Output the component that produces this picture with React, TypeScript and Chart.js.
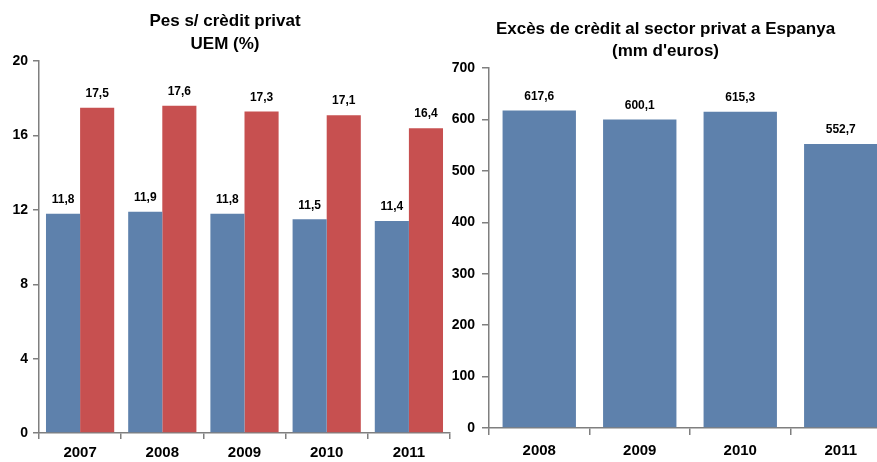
import React, { useEffect, useRef } from 'react';
import { Chart, registerables } from 'chart.js';

Chart.register(...registerables);

// ---- Data ----
const leftTitle = ['Pes s/ crèdit privat', 'UEM (%)'];
const leftCategories = ['2007', '2008', '2009', '2010', '2011'];
const leftSeriesA = [11.8, 11.9, 11.8, 11.5, 11.4];
const leftSeriesB = [17.5, 17.6, 17.3, 17.1, 16.4];
const leftMin = 0;
const leftMax = 20;
const leftStep = 4;

const rightTitle = ["Excès de crèdit al sector privat a Espanya", "(mm d'euros)"];
const rightCategories = ['2008', '2009', '2010', '2011'];
const rightValues = [617.6, 600.1, 615.3, 552.7];
const rightMin = 0;
const rightMax = 700;
const rightStep = 100;

const BLUE = '#5E81AC';
const RED = '#C75050';
const AXIS = '#7f7f7f';
const FONT = '"Liberation Sans", Arial, sans-serif';

const fmt = (v: number) => v.toFixed(1).replace('.', ',');

const labelPlugin = {
  id: 'barLabels',
  afterDatasetsDraw(chart: any) {
    const ctx = chart.ctx;
    ctx.save();
    ctx.font = `bold 12px ${FONT}`;
    ctx.fillStyle = '#000';
    ctx.textAlign = 'center';
    ctx.textBaseline = 'middle';
    chart.data.datasets.forEach((ds: any, i: number) => {
      const meta = chart.getDatasetMeta(i);
      meta.data.forEach((el: any, j: number) => {
        ctx.fillText(fmt(ds.data[j]), el.x, el.y - 14);
      });
    });
    ctx.restore();
  },
};

function makeScales(min: number, max: number, step: number, yWidth: number, xHeight: number, tickLen: number, pad: number) {
  return {
    x: {
      grid: { display: true, drawOnChartArea: false, drawTicks: true, tickLength: tickLen, color: AXIS, lineWidth: 1.5, offset: true },
      border: { display: true, color: AXIS, width: 1.5 },
      ticks: { color: '#000', padding: pad, font: { family: FONT, size: 15, weight: 'bold' } },
      afterFit: (s: any) => { s.height = xHeight; },
    },
    y: {
      min, max,
      grid: { display: true, drawOnChartArea: false, drawTicks: true, tickLength: tickLen, color: AXIS, lineWidth: 1.5 },
      border: { display: true, color: AXIS, width: 1.5 },
      ticks: { stepSize: step, color: '#000', padding: pad, font: { family: FONT, size: 14, weight: 'bold' } },
      afterFit: (s: any) => { s.width = yWidth; },
    },
  };
}

export default function App() {
  const leftRef = useRef<HTMLCanvasElement>(null);
  const rightRef = useRef<HTMLCanvasElement>(null);

  useEffect(() => {
    const left = new Chart(leftRef.current as HTMLCanvasElement, {
      type: 'bar',
      data: {
        labels: leftCategories,
        datasets: [
          { label: 'Sèrie 1', data: leftSeriesA, backgroundColor: BLUE, categoryPercentage: 0.83, barPercentage: 1 },
          { label: 'Sèrie 2', data: leftSeriesB, backgroundColor: RED, categoryPercentage: 0.83, barPercentage: 1 },
        ],
      },
      options: {
        responsive: false,
        animation: false,
        layout: { padding: { left: 0, right: 10, top: 0, bottom: 0 } },
        plugins: {
          legend: { display: false },
          tooltip: { enabled: false },
          title: {
            display: true,
            text: leftTitle,
            color: '#000',
            font: { family: FONT, size: 17, weight: 'bold', lineHeight: 1.36 },
            padding: { top: 10, bottom: 5 },
          },
        },
        scales: makeScales(leftMin, leftMax, leftStep, 39, 29, 6, 5) as any,
      },
      plugins: [labelPlugin],
    });

    const right = new Chart(rightRef.current as HTMLCanvasElement, {
      type: 'bar',
      data: {
        labels: rightCategories,
        datasets: [
          { label: 'Excès de crèdit', data: rightValues, backgroundColor: BLUE, categoryPercentage: 0.73, barPercentage: 1 },
        ],
      },
      options: {
        responsive: false,
        animation: false,
        layout: { padding: { left: 0, right: 11, top: 0, bottom: 0 } },
        plugins: {
          legend: { display: false },
          tooltip: { enabled: false },
          title: {
            display: true,
            text: rightTitle,
            color: '#000',
            font: { family: FONT, size: 17, weight: 'bold', lineHeight: 1.3 },
            padding: { top: 18, bottom: 6 },
          },
        },
        scales: makeScales(rightMin, rightMax, rightStep, 49, 34, 7, 7) as any,
      },
      plugins: [labelPlugin],
    });

    return () => {
      left.destroy();
      right.destroy();
    };
  }, []);

  return (
    <div style={{ position: 'fixed', left: 0, top: 0, width: 877, height: 462, overflow: 'hidden', background: '#fff' }}>
      <canvas ref={leftRef} width={460} height={462} style={{ position: 'absolute', left: 0, top: 0, width: 460, height: 462 }} />
      <canvas ref={rightRef} width={462} height={462} style={{ position: 'absolute', left: 440, top: 0, width: 462, height: 462 }} />
    </div>
  );
}
